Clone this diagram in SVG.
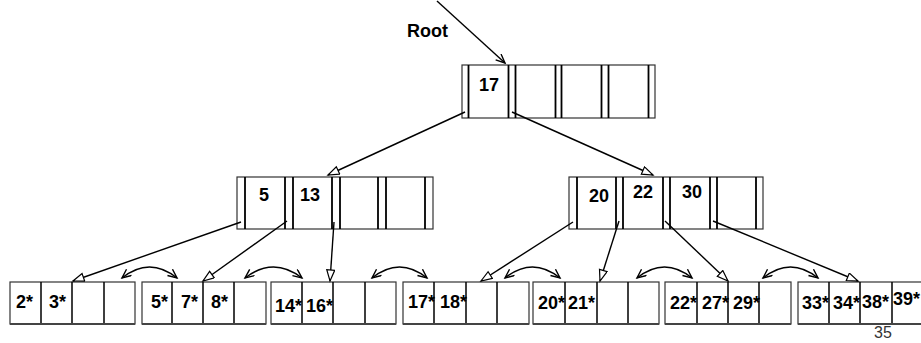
<svg xmlns="http://www.w3.org/2000/svg" width="921" height="343" viewBox="0 0 921 343">
<style>
.box{fill:#fff;stroke:#333;stroke-width:1.2}
.div{stroke:#000;stroke-width:1.8}
.ldiv{stroke:#000;stroke-width:1.5}
.lbot{stroke:#444;stroke-width:2}
.t{font-family:"Liberation Sans",Arial,sans-serif;font-weight:bold;font-size:18px;fill:#000}
.c{fill:none;stroke:#000;stroke-width:1.4}
</style>
<defs>
<marker id="tri" markerUnits="userSpaceOnUse" markerWidth="14" markerHeight="10" refX="12" refY="4.5" orient="auto">
<path d="M1,0.5 L12,4.5 L1,8.5 z" fill="#fff" stroke="#000" stroke-width="1.2"/>
</marker>
<marker id="vee" markerUnits="userSpaceOnUse" markerWidth="12" markerHeight="10" refX="10" refY="4.5" orient="auto-start-reverse">
<path d="M1,0.5 L10,4.5 L1,8.5" fill="none" stroke="#000" stroke-width="1.4"/>
</marker>
</defs>
<rect width="921" height="343" fill="#fff"/>

<text class="t" x="407" y="37">Root</text>

<g id="root">
<rect class="box" x="462" y="65" width="193" height="53"/>
<path class="div" d="M468.5,65V118M508.5,65V118M515.5,65V118M555.5,65V118M561.5,65V118M601.5,65V118M608.5,65V118M648.5,65V118"/>
<text class="t" x="479" y="91">17</text>
</g>

<g id="mid-left">
<rect class="box" x="237" y="177" width="196" height="52"/>
<path class="div" d="M245,177V229M285,177V229M293,177V229M332,177V229M340,177V229M378,177V229M386,177V229M425,177V229"/>
<text class="t" x="259" y="201">5</text>
<text class="t" x="300" y="201">13</text>
</g>

<g id="mid-right">
<rect class="box" x="569" y="177" width="194" height="52"/>
<path class="div" d="M577,177V229M616,177V229M623,177V229M663,177V229M670,177V229M710,177V229M717,177V229M756,177V229"/>
<text class="t" x="589" y="202">20</text>
<text class="t" x="633" y="198">22</text>
<text class="t" x="682" y="198">30</text>
</g>

<g id="leaf1">
<rect class="box" x="10" y="282" width="125" height="42"/>
<path class="ldiv" d="M41,282V324M72,282V324M104,282V324"/>
<path class="lbot" d="M10,324H135"/>
<text class="t" x="16" y="308">2*</text>
<text class="t" x="49" y="308">3*</text>
</g>

<g id="leaf2">
<rect class="box" x="142" y="282" width="124" height="42"/>
<path class="ldiv" d="M172,282V324M203,282V324M234,282V324"/>
<path class="lbot" d="M142,324H266"/>
<text class="t" x="151" y="308">5*</text>
<text class="t" x="181" y="308">7*</text>
<text class="t" x="211" y="308">8*</text>
</g>

<g id="leaf3">
<rect class="box" x="271" y="282" width="125" height="42"/>
<path class="ldiv" d="M302,282V324M333,282V324M365,282V324"/>
<path class="lbot" d="M271,324H396"/>
<text class="t" x="275" y="312">14*</text>
<text class="t" x="306" y="312">16*</text>
</g>

<g id="leaf4">
<rect class="box" x="403" y="282" width="126" height="42"/>
<path class="ldiv" d="M434,282V324M466,282V324M497,282V324"/>
<path class="lbot" d="M403,324H529"/>
<text class="t" x="408" y="308">17*</text>
<text class="t" x="440" y="308">18*</text>
</g>

<g id="leaf5">
<rect class="box" x="533" y="282" width="126" height="42"/>
<path class="ldiv" d="M565,282V324M597,282V324M628,282V324"/>
<path class="lbot" d="M533,324H659"/>
<text class="t" x="538" y="309">20*</text>
<text class="t" x="568" y="309">21*</text>
</g>

<g id="leaf6">
<rect class="box" x="665" y="282" width="126" height="42"/>
<path class="ldiv" d="M697,282V324M728,282V324M759,282V324"/>
<path class="lbot" d="M665,324H791"/>
<text class="t" x="670" y="309">22*</text>
<text class="t" x="702" y="309">27*</text>
<text class="t" x="733" y="309">29*</text>
</g>

<g id="leaf7">
<rect class="box" x="798" y="282" width="125" height="42"/>
<path class="ldiv" d="M829,282V324M860,282V324M892,282V324"/>
<path class="lbot" d="M798,324H923"/>
<text class="t" x="802" y="309">33*</text>
<text class="t" x="833" y="309">34*</text>
<text class="t" x="862" y="308">38*</text>
<text class="t" x="893" y="305">39*</text>
</g>

<g id="connectors">
<path class="c" d="M437,1L505,63" marker-end="url(#vee)"/>
<path class="c" d="M465,112L328,175" marker-end="url(#tri)"/>
<path class="c" d="M512,112L653,175" marker-end="url(#tri)"/>
<path class="c" d="M241,222L73,281" marker-end="url(#tri)"/>
<path class="c" d="M287,221L203,281" marker-end="url(#tri)"/>
<path class="c" d="M334,222L330,281" marker-end="url(#tri)"/>
<path class="c" d="M573,222L481,281" marker-end="url(#tri)"/>
<path class="c" d="M619,221L600,281" marker-end="url(#tri)"/>
<path class="c" d="M665,221L728,281" marker-end="url(#tri)"/>
<path class="c" d="M713,221L858,281" marker-end="url(#tri)"/>
<path class="c" d="M122,278Q149.5,256 177,278" marker-start="url(#vee)" marker-end="url(#vee)"/>
<path class="c" d="M245,278Q273.5,256 302,278" marker-start="url(#vee)" marker-end="url(#vee)"/>
<path class="c" d="M372,278Q399.5,256 427,278" marker-start="url(#vee)" marker-end="url(#vee)"/>
<path class="c" d="M505,278Q532.5,256 560,278" marker-start="url(#vee)" marker-end="url(#vee)"/>
<path class="c" d="M637,278Q664.5,256 692,278" marker-start="url(#vee)" marker-end="url(#vee)"/>
<path class="c" d="M763,278Q790.5,256 818,278" marker-start="url(#vee)" marker-end="url(#vee)"/>
</g>

<text x="874" y="338" font-family="'Liberation Sans',Arial,sans-serif" font-size="16" fill="#333">35</text>
</svg>
